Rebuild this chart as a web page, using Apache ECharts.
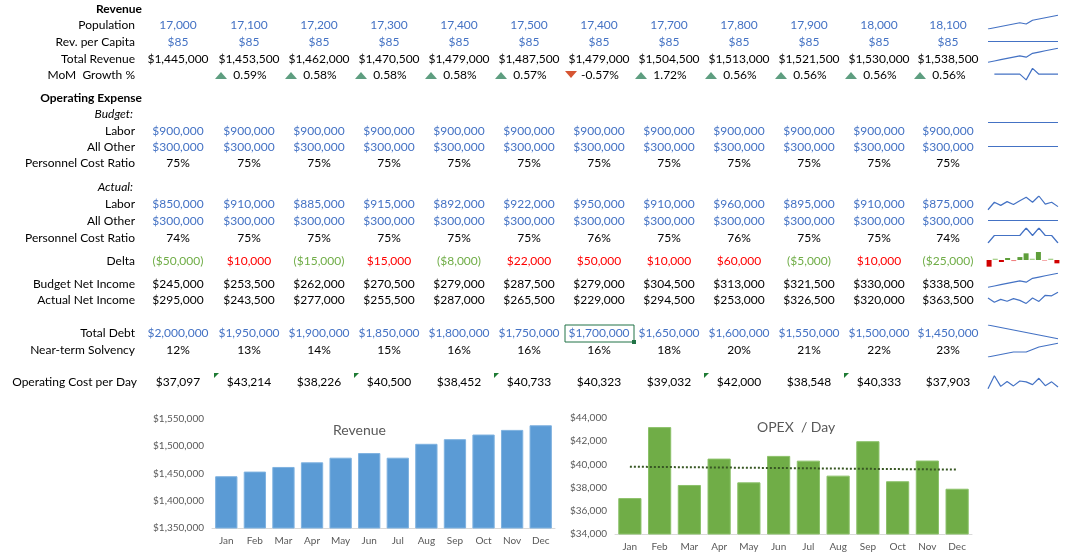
<!DOCTYPE html>
<html>
<head>
<meta charset="utf-8">
<style>html,body{margin:0;height:100%;background:#fff}#c{width:1080px;height:557px}</style>
<script src="https://cdn.jsdelivr.net/npm/echarts@6/dist/echarts.min.js"></script>
</head>
<body>
<div id="c"></div>
<script>
var months = ['Jan','Feb','Mar','Apr','May','Jun','Jul','Aug','Sep','Oct','Nov','Dec'];
var population = [17000,17100,17200,17300,17400,17500,17400,17700,17800,17900,18000,18100];
var revPerCapita = [85,85,85,85,85,85,85,85,85,85,85,85];
var totalRevenue = [1445000,1453500,1462000,1470500,1479000,1487500,1479000,1504500,1513000,1521500,1530000,1538500];
var momGrowth = [null,0.59,0.58,0.58,0.58,0.57,-0.57,1.72,0.56,0.56,0.56,0.56];
var budgetLabor = [900000,900000,900000,900000,900000,900000,900000,900000,900000,900000,900000,900000];
var budgetOther = [300000,300000,300000,300000,300000,300000,300000,300000,300000,300000,300000,300000];
var budgetPcr = [75,75,75,75,75,75,75,75,75,75,75,75];
var actualLabor = [850000,910000,885000,915000,892000,922000,950000,910000,960000,895000,910000,875000];
var actualOther = [300000,300000,300000,300000,300000,300000,300000,300000,300000,300000,300000,300000];
var actualPcr = [74,75,75,75,75,75,76,75,76,75,75,74];
var delta = [-50000,10000,-15000,15000,-8000,22000,50000,10000,60000,-5000,10000,-25000];
var budgetNI = [245000,253500,262000,270500,279000,287500,279000,304500,313000,321500,330000,338500];
var actualNI = [295000,243500,277000,255500,287000,265500,229000,294500,253000,326500,320000,363500];
var totalDebt = [2000000,1950000,1900000,1850000,1800000,1750000,1700000,1650000,1600000,1550000,1500000,1450000];
var solvency = [12,13,14,15,16,16,16,18,20,21,22,23];
var opCost = [37097,43214,38226,40500,38452,40733,40323,39032,42000,38548,40333,37903];
var opCostFlagged = [1,3,5,8,10];
var opexTrend = [39800,39550];

var BLUE = '#4472C4', BLACK = '#000', FONT = 'Lato';
var colX = [178,249,319,389,459,529,599,669,739,809,879,948];

function money(v) { return '$' + Math.abs(v).toLocaleString('en-US'); }
function num(v) { return v.toLocaleString('en-US'); }

var g = [];
function txt(x, y, s, opt) {
  opt = opt || {};
  g.push({type: 'text', x: x, y: y, style: {text: s, fill: opt.color || BLACK,
    font: (opt.italic ? 'italic ' : '') + (opt.bold ? 'bold ' : '') + (opt.size || 12) + 'px ' + FONT,
    textAlign: opt.align || 'center', textVerticalAlign: 'middle'}});
}
function label(y, s, opt) { opt = opt || {}; opt.align = 'right'; txt(opt.x || 135, y, s, opt); }
function row(y, vals, fmt, color) {
  vals.forEach(function (v, i) { if (v != null) txt(colX[i], y, fmt(v), {color: typeof color === 'function' ? color(v) : color}); });
}

label(9, 'Revenue', {bold: true, x: 142});
label(25, 'Population'); row(25, population, num, BLUE);
label(42, 'Rev. per Capita'); row(42, revPerCapita, money, BLUE);
label(59, 'Total Revenue'); row(59, totalRevenue, money, BLACK);
label(75, 'MoM  Growth %');
momGrowth.forEach(function (v, i) {
  if (v == null) return;
  txt(colX[i] + 1, 75, v.toFixed(2) + '%');
  var cx = colX[i] - 28, up = v >= 0;
  g.push({type: 'polygon', shape: {points: up ? [[cx - 6, 79], [cx + 6, 79], [cx, 72]] : [[cx - 6, 71], [cx + 6, 71], [cx, 78]]},
    style: {fill: up ? '#5E9E80' : '#D65532'}});
});
label(98, 'Operating Expense', {bold: true, x: 142});
label(114, 'Budget:', {italic: true, x: 133});
label(131, 'Labor'); row(131, budgetLabor, money, BLUE);
label(147, 'All Other'); row(147, budgetOther, money, BLUE);
label(163, 'Personnel Cost Ratio'); row(163, budgetPcr, function (v) { return v + '%'; }, BLACK);
label(187, 'Actual:', {italic: true, x: 133});
label(204, 'Labor'); row(204, actualLabor, money, BLUE);
label(221, 'All Other'); row(221, actualOther, money, BLUE);
label(238, 'Personnel Cost Ratio'); row(238, actualPcr, function (v) { return v + '%'; }, BLACK);
label(261, 'Delta');
row(261, delta, function (v) { return v < 0 ? '(' + money(v) + ')' : money(v); }, function (v) { return v < 0 ? '#70AD47' : '#FF0000'; });
label(284, 'Budget Net Income'); row(284, budgetNI, money, BLACK);
label(300, 'Actual Net Income'); row(300, actualNI, money, BLACK);
label(333, 'Total Debt'); row(333, totalDebt, money, BLUE);
label(350, 'Near-term Solvency'); row(350, solvency, function (v) { return v + '%'; }, BLACK);
label(382, 'Operating Cost per Day', {x: 137}); row(382, opCost, money, BLACK);
opCostFlagged.forEach(function (i) {
  var x = colX[i] - 35;
  g.push({type: 'polygon', shape: {points: [[x, 373], [x + 5, 373], [x, 378]]}, style: {fill: '#1E7B34'}});
});
g.push({type: 'rect', shape: {x: 565, y: 325, width: 69, height: 17}, style: {fill: 'none', stroke: '#217346', lineWidth: 1}});
g.push({type: 'rect', shape: {x: 632, y: 340, width: 4, height: 4}, style: {fill: '#217346'}});

// sparklines
var grids = [], xAxes = [], yAxes = [], series = [];
function spark(y, data) {
  var idx = grids.length;
  grids.push({left: 988, width: 70, top: y - 8, height: 15});
  xAxes.push({type: 'category', gridIndex: idx, data: months, show: false, boundaryGap: false});
  var vals = data.filter(function (v) { return v != null; });
  var mn = Math.min.apply(null, vals), mx = Math.max.apply(null, vals);
  yAxes.push({type: 'value', gridIndex: idx, show: false, scale: true,
    min: mn === mx ? mn - 1 : null, max: mn === mx ? mx + 1 : null});
  series.push({type: 'line', xAxisIndex: idx, yAxisIndex: idx, data: data, showSymbol: false, silent: true,
    lineStyle: {color: BLUE, width: 1.2}});
}
spark(22, population); spark(42, revPerCapita); spark(56, totalRevenue); spark(75, momGrowth);
spark(123, budgetLabor); spark(147, budgetOther);
spark(204, actualLabor); spark(221, actualOther); spark(236, actualPcr);
var dg = grids.length;
grids.push({left: 986, width: 74, top: 252, height: 16});
xAxes.push({type: 'category', gridIndex: dg, data: months, show: false});
yAxes.push({type: 'value', gridIndex: dg, show: false, min: -60000, max: 60000});
series.push({type: 'bar', xAxisIndex: dg, yAxisIndex: dg, barWidth: 5, silent: true,
  data: delta.map(function (v) {
    var strong = Math.abs(v) >= 15000;
    return {value: v, itemStyle: {color: v < 0 ? (strong ? '#D00000' : '#F08080') : (strong ? '#5E9E3A' : '#A9D18E')}};
  })});
spark(281, budgetNI); spark(298, actualNI);
spark(333, totalDebt); spark(350, solvency); spark(382, opCost);

// main bar charts
var rg = grids.length;
grids.push({left: 212, right: 525, top: 419, bottom: 29});
grids.push({left: 615, right: 108, top: 418, bottom: 23});
var axLabel = {color: '#595959', fontSize: 10, fontFamily: FONT};
xAxes.push({type: 'category', gridIndex: rg, data: months, axisTick: {show: false}, axisLine: {lineStyle: {color: '#D9D9D9'}}, axisLabel: axLabel});
xAxes.push({type: 'category', gridIndex: rg + 1, data: months, axisTick: {show: false}, axisLine: {lineStyle: {color: '#D9D9D9'}}, axisLabel: axLabel});
yAxes.push({type: 'value', gridIndex: rg, min: 1350000, max: 1550000, interval: 50000, splitLine: {show: false},
  axisLabel: Object.assign({formatter: function (v) { return money(v); }}, axLabel)});
yAxes.push({type: 'value', gridIndex: rg + 1, min: 34000, max: 44000, interval: 2000, splitLine: {show: false},
  axisLabel: Object.assign({formatter: function (v) { return money(v); }}, axLabel)});
series.push({type: 'bar', xAxisIndex: rg, yAxisIndex: rg, data: totalRevenue, barCategoryGap: '22%',
  itemStyle: {color: '#5B9BD5', borderColor: '#7FB2E0', borderWidth: 1}});
series.push({type: 'bar', xAxisIndex: rg + 1, yAxisIndex: rg + 1, data: opCost, barCategoryGap: '22%',
  itemStyle: {color: '#70AD47', borderColor: '#8CC26A', borderWidth: 1},
  markLine: {symbol: 'none', silent: true, label: {show: false},
    lineStyle: {type: 'dotted', color: '#375623', width: 2},
    data: [[{coord: ['Jan', opexTrend[0]]}, {coord: ['Dec', opexTrend[1]]}]]}});

var chart = echarts.init(document.getElementById('c'));
chart.setOption({
  animation: false,
  title: [
    {text: 'Revenue', left: 328, top: 418, textStyle: {color: '#595959', fontSize: 14, fontWeight: 'normal', fontFamily: FONT}},
    {text: 'OPEX  / Day', left: 752, top: 415, textStyle: {color: '#595959', fontSize: 14, fontWeight: 'normal', fontFamily: FONT}}
  ],
  grid: grids, xAxis: xAxes, yAxis: yAxes, series: series, graphic: g
});
</script>
</body>
</html>
